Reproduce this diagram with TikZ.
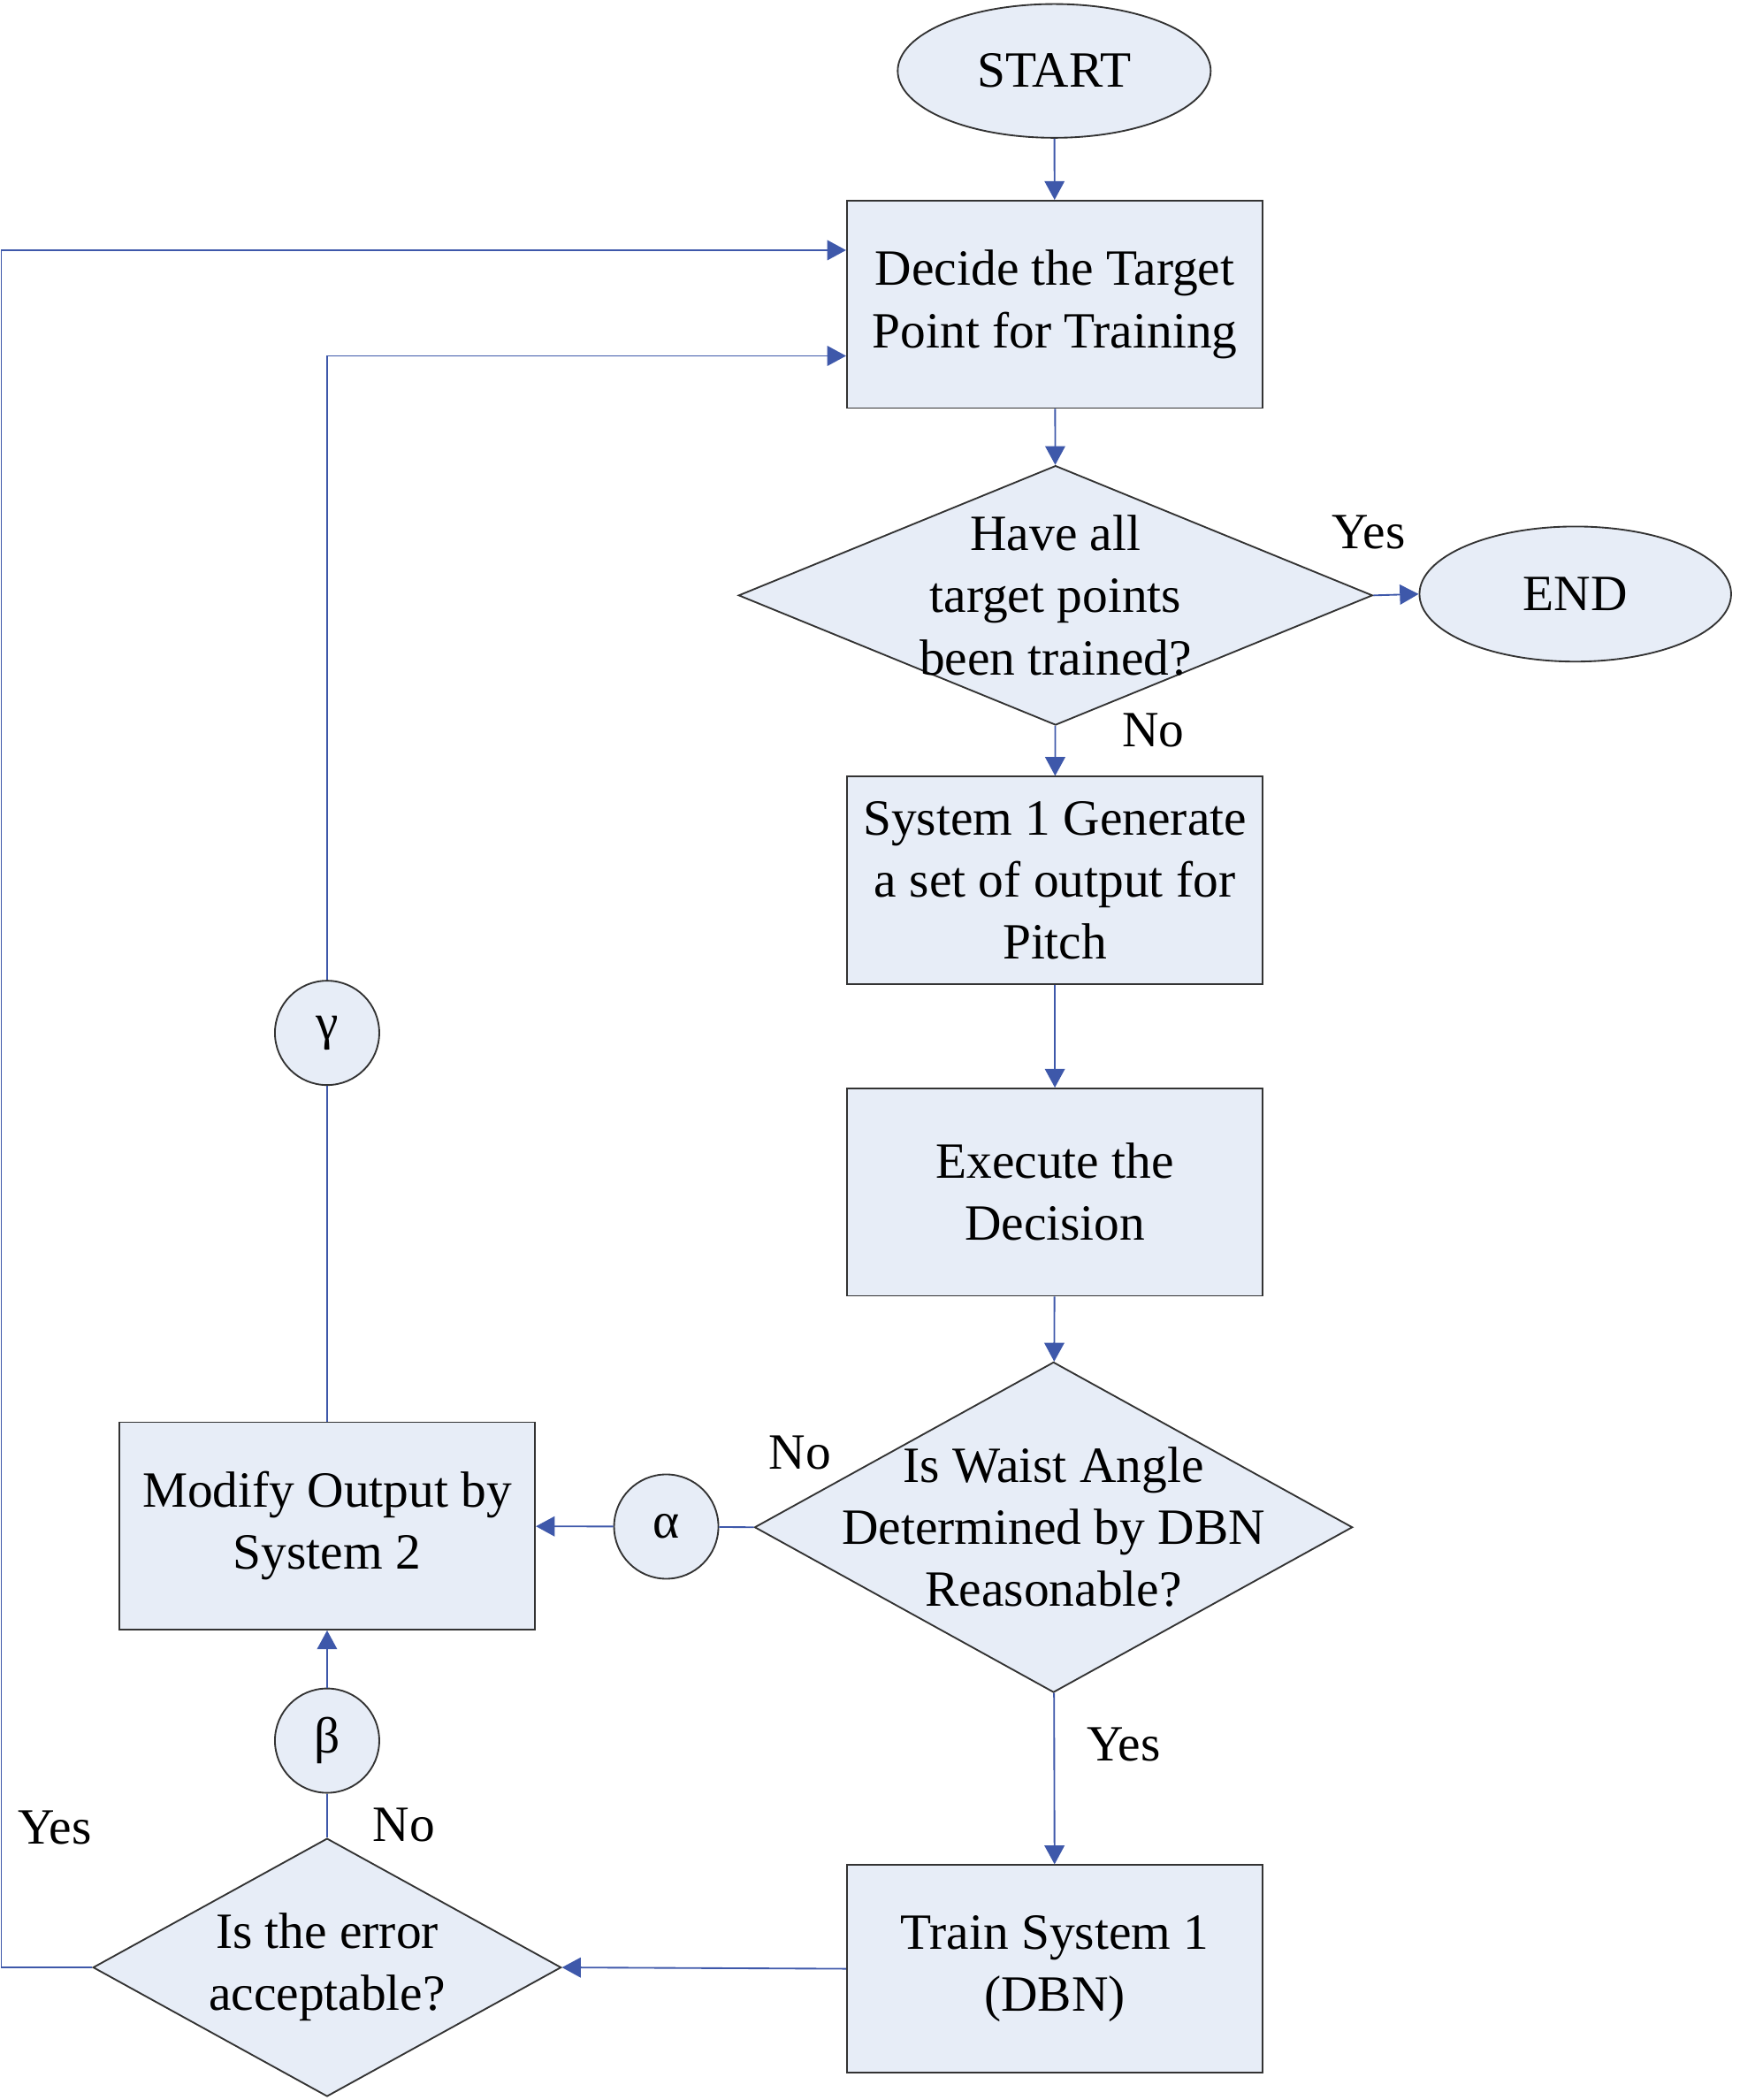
\documentclass[tikz,border=0pt]{standalone}
\usepackage{fontspec}
\setmainfont{Liberation Serif}
\usetikzlibrary{arrows.meta}
\usetikzlibrary{shapes.geometric}
\definecolor{boxfill}{RGB}{231,237,247}
\definecolor{flowline}{RGB}{62,88,170}
\tikzstyle{block}=[draw=black!80, fill=boxfill, line width=0.7pt, inner sep=0pt]
\tikzstyle{box}=[block, rectangle, minimum width=6.22cm, minimum height=3.1cm, align=center]
\tikzstyle{term}=[block, ellipse, minimum width=4.68cm, minimum height=2cm]
\tikzstyle{dec}=[block, diamond]
\tikzstyle{conn}=[block, circle, minimum size=1.56cm]
\tikzstyle{txt}=[align=center, inner sep=0pt]
\tikzset{->-/.style={draw=flowline, line width=0.7pt, -{Triangle[length=8pt, width=8.5pt]}},
  flow/.style={draw=flowline, line width=0.7pt}}

\begin{document}
\begin{tikzpicture}[x=0.02cm, y=-0.02cm, font=\fontsize{21.6}{26.4}\selectfont]
		\useasboundingbox (-1,-1) rectangle (1299,1568.6);
		% main column
		\node[term] (start) at (787,52) {START};
		\node[box] (target) at (787.5,226.5) {Decide the Target\\Point for Training};
		\node[dec, minimum width=9.48cm, minimum height=3.88cm] (alldone) at (788,444) {};
		\node[txt] (alldonetxt) at (alldone) {Have all\\target points\\been trained?};
		\node[term, minimum width=4.66cm, minimum height=2.02cm] (end) at (1176.5,443) {END};
		\node[box] (generate) at (787.5,657) {System 1 Generate\\a set of output for\\Pitch};
		\node[box] (execute) at (787.5,890) {Execute the\\Decision};
		\node[dec, minimum width=8.94cm, minimum height=4.94cm] (waist) at (786.5,1140.5) {};
		\node[txt] (waisttxt) at (waist) {Is Waist Angle\\Determined by DBN\\Reasonable?};
		\node[box] (train) at (787.5,1470.5) {Train System 1\\(DBN)};
		% left column
		\node[box] (modify) at (243.5,1139.5) {Modify Output by\\System 2};
		\node[conn] (alpha) at (497,1140) {α};
		\node[conn] (gamma) at (243.5,771) {γ};
		\node[conn] (beta) at (243.5,1300) {β};
		\node[dec, minimum width=7cm, minimum height=3.86cm] (error) at (243.5,1469.5) {};
		\node[txt] (errortxt) at (error) {Is the error\\acceptable?};
		% answers
		\node[txt] (yes1) at (1022,397) {Yes};
		\node[txt] (no1) at (861,545) {No};
		\node[txt] (no2) at (597,1085) {No};
		\node[txt] (yes2) at (839,1303) {Yes};
		\node[txt] (no3) at (301,1363) {No};
		\node[txt] (yes3) at (40,1365) {Yes};
		\coordinate (upleft) at (0,186);
		\coordinate (upmid) at (243.5,265);
		% flow
		\draw[->-] (start) -- (target);
		\draw[->-] (target) -- (alldone);
		\draw[->-] (alldone.east) -- (end.west);
		\draw[->-] (alldone) -- (generate);
		\draw[->-] (generate) -- (execute);
		\draw[->-] (execute) -- (waist);
		\draw[->-] (waist) -- (train);
		\draw[->-] (train.west) -- (error.east);
		\draw[flow] (waist.west) -- (alpha);
		\draw[->-] (alpha) -- (modify);
		\draw[flow] (error.north) -- (beta);
		\draw[->-] (beta) -- (modify);
		\draw[flow] (modify) -- (gamma);
		\draw[->-] (gamma) -- (upmid) -- (upmid -| target.west);
		\draw[->-] (error.west) -- (error.west -| upleft) -- (upleft) -- (upleft -| target.west);
\end{tikzpicture}
\end{document}
